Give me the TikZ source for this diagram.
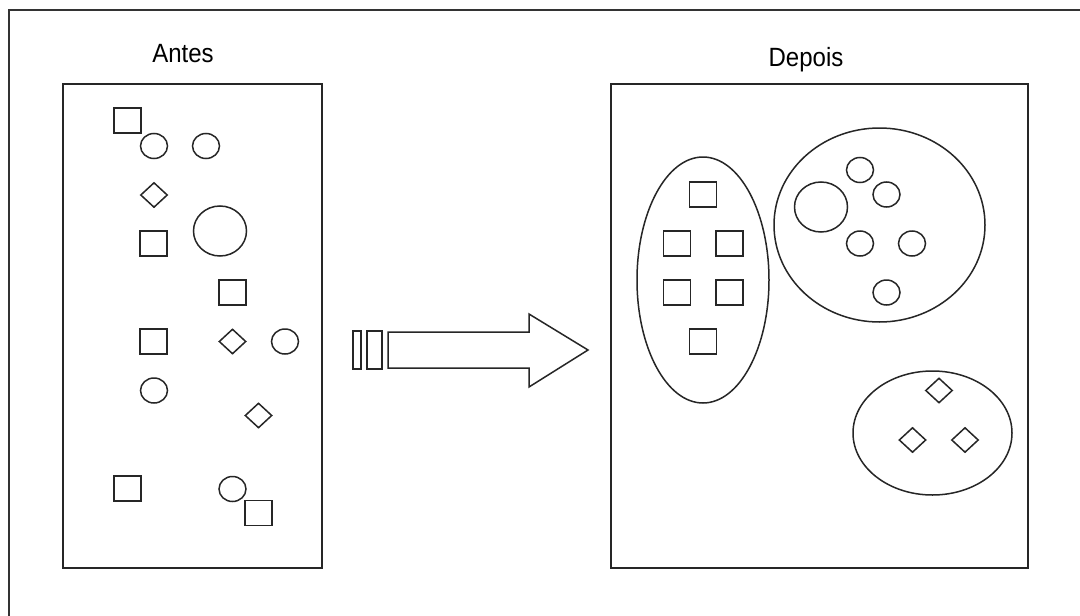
\documentclass[tikz,border=0pt]{standalone}
\usepackage{fontspec}
\setmainfont{Liberation Sans}
\usetikzlibrary{shapes.geometric}
\tikzset{
  frame/.style={draw=black!80, line width=1.8pt},
  panel/.style={draw=black!85, line width=1.7pt},
  sq/.style={draw=black!85, line width=1.5pt, rectangle, minimum width=27pt, minimum height=25pt, inner sep=0pt},
  rd/.style={draw=black!85, line width=1.5pt, ellipse, minimum width=27pt, minimum height=25pt, inner sep=0pt},
  bigrd/.style={rd, minimum width=53pt, minimum height=50pt},
  dm/.style={draw=black!85, line width=1.5pt, diamond, minimum width=27pt, minimum height=25pt, inner sep=0pt},
  group/.style={draw=black!85, line width=1.5pt, ellipse, inner sep=0pt},
  title/.style={font=\fontsize{24}{28}\selectfont, anchor=base, inner sep=0pt, yscale=1.1, transform shape},
  bar/.style={draw=black!85, line width=1.4pt, rectangle, inner sep=0pt, minimum height=38pt}
}
\begin{document}
\begin{tikzpicture}[x=1pt,y=-1pt]
\useasboundingbox (0,0) rectangle (1080,616);
\fill[white] (0,0) rectangle (1080,616);

% open outer frame
\draw[frame] (9,616) -- (9,10) -- (1080,10);

% titles
\node[title] (antes) at (183,62) {Antes};
\node[title] (depois) at (806,66) {Depois};

% panels
\draw[panel] (63,84) rectangle (322,568);
\draw[panel] (611,84) rectangle (1028,568);

% scattered objects before grouping
\node[sq] (a1) at (127.5,120.5) {};
\node[rd] (a2) at (154,146) {};
\node[rd] (a3) at (206,146) {};
\node[dm] (a4) at (154,195) {};
\node[sq] (a5) at (153.5,243.5) {};
\node[bigrd] (a6) at (220,231) {};
\node[sq] (a7) at (232.5,292.5) {};
\node[sq] (a8) at (153.5,341.5) {};
\node[dm] (a9) at (232.5,341.5) {};
\node[rd] (a10) at (285,341.5) {};
\node[rd] (a11) at (154,390.5) {};
\node[dm] (a12) at (258.5,415.5) {};
\node[sq] (a13) at (127.5,488.5) {};
\node[rd] (a14) at (232.5,489) {};
\node[sq] (a15) at (258.5,513) {};

% transition arrow
\node[bar, minimum width=8pt] (b1) at (357,350) {};
\node[bar, minimum width=15pt] (b2) at (374.5,350) {};
\draw[draw=black!85, line width=1.5pt, line join=miter]
  (388,332) -- (529,332) -- (529,314) -- (588,350) -- (529,387) -- (529,368) -- (388,368) -- cycle;

% groups after classification
\node[group, minimum width=132pt, minimum height=246pt] (gsq) at (703,280) {};
\node[sq] (s1) at (703,194.5) {};
\node[sq] (s2) at (677,243.5) {};
\node[sq] (s3) at (729.5,243.5) {};
\node[sq] (s4) at (677,292.5) {};
\node[sq] (s5) at (729.5,292.5) {};
\node[sq] (s6) at (703,341.5) {};

\node[group, minimum width=211pt, minimum height=194pt] (grd) at (879.5,225) {};
\node[rd] (c1) at (860,170) {};
\node[rd] (c2) at (886.5,194.5) {};
\node[bigrd] (c3) at (821,207) {};
\node[rd] (c4) at (860,243.5) {};
\node[rd] (c5) at (912,243.5) {};
\node[rd] (c6) at (886.5,292.5) {};

\node[group, minimum width=159pt, minimum height=124pt] (gdm) at (932.5,433) {};
\node[dm] (d1) at (939,390.5) {};
\node[dm] (d2) at (912.5,440) {};
\node[dm] (d3) at (965,440) {};
\end{tikzpicture}
\end{document}
